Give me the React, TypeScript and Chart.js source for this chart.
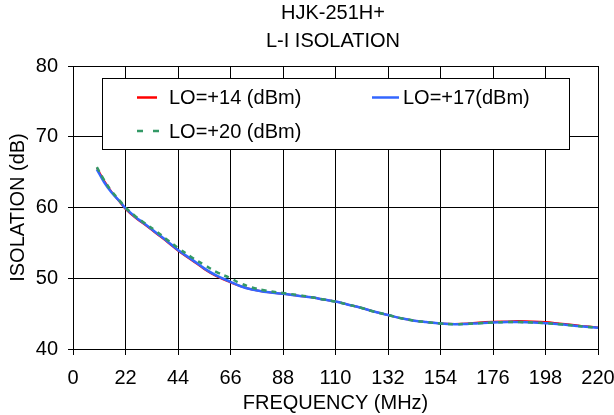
import React, { useEffect, useRef } from "react";
import { Chart, registerables } from "chart.js";

Chart.register(...registerables);

const titleLines = ["HJK-251H+", "L-I ISOLATION"];
const xTitle = "FREQUENCY (MHz)";
const yTitle = "ISOLATION (dB)";
const xTicks = [0, 22, 44, 66, 88, 110, 132, 154, 176, 198, 220];
const yTicks = [40, 50, 60, 70, 80];

const freqs = [10, 13, 16, 20, 22, 26, 30, 35, 40, 44, 50, 55, 60, 66, 70, 75, 80, 88, 95, 100, 105, 110, 115, 121, 126, 132, 138, 143, 148, 154, 160, 165, 170, 176, 182, 187, 193, 198, 204, 210, 215, 220];
const lo14 = [65.6, 63.8, 62.3, 60.6, 59.8, 58.6, 57.6, 56.3, 55.0, 53.9, 52.5, 51.3, 50.3, 49.4, 48.9, 48.4, 48.1, 47.8, 47.5, 47.3, 47.0, 46.7, 46.3, 45.8, 45.3, 44.8, 44.3, 44.0, 43.8, 43.6, 43.55, 43.6, 43.75, 43.85, 43.9, 43.95, 43.9, 43.8, 43.6, 43.4, 43.2, 43.05];
const lo17 = [65.4, 63.6, 62.2, 60.7, 59.9, 58.7, 57.7, 56.4, 55.1, 54.0, 52.6, 51.4, 50.4, 49.5, 48.9, 48.4, 48.1, 47.8, 47.5, 47.3, 47.0, 46.7, 46.3, 45.8, 45.3, 44.8, 44.3, 44.0, 43.8, 43.6, 43.5, 43.55, 43.65, 43.75, 43.8, 43.8, 43.75, 43.65, 43.5, 43.3, 43.15, 43.0];
const lo20 = [65.7, 63.9, 62.4, 60.8, 60.0, 58.8, 57.8, 56.6, 55.3, 54.3, 52.9, 51.9, 50.9, 50.0, 49.3, 48.7, 48.3, 47.9, 47.6, 47.3, 47.0, 46.7, 46.3, 45.8, 45.3, 44.8, 44.3, 44.0, 43.8, 43.6, 43.5, 43.55, 43.65, 43.75, 43.8, 43.8, 43.75, 43.65, 43.5, 43.3, 43.15, 43.0];

const seriesLabels = ["LO=+14 (dBm)", "LO=+17(dBm)", "LO=+20 (dBm)"];
const seriesColors = ["#ff0000", "#3366ff", "#339966"];

const FONT = "'Liberation Sans', Arial, sans-serif";
const FS = 20;

const pts = (ys: number[]) => freqs.map((x, i) => ({ x, y: ys[i] }));

const titlePlugin = {
  id: "customTitle",
  afterDraw(chart: any) {
    const ctx = chart.ctx;
    ctx.save();
    ctx.fillStyle = "#000";
    ctx.font = `${FS}px ${FONT}`;
    ctx.textAlign = "center";
    ctx.textBaseline = "middle";
    const cx = 333;
    ctx.fillText(titleLines[0], cx, 13);
    ctx.fillText(titleLines[1], cx, 41);
    ctx.restore();
  },
};

const legendPlugin = {
  id: "customLegend",
  afterDatasetsDraw(chart: any) {
    const ctx = chart.ctx;
    ctx.save();
    const bx = 102.5, by = 78.5, bw = 467, bh = 71;
    ctx.fillStyle = "#fff";
    ctx.fillRect(bx, by, bw, bh);
    ctx.strokeStyle = "#000";
    ctx.lineWidth = 1;
    ctx.strokeRect(bx, by, bw, bh);
    const items = [
      { x: 137, y: 97.5, len: 20, dash: [] as number[], tx: 169 },
      { x: 372, y: 97.5, len: 27, dash: [] as number[], tx: 403 },
      { x: 137, y: 131, len: 22, dash: [6, 10], tx: 169 },
    ];
    items.forEach((it, i) => {
      ctx.strokeStyle = seriesColors[i];
      ctx.lineWidth = 2.5;
      ctx.setLineDash(it.dash);
      ctx.beginPath();
      ctx.moveTo(it.x, it.y);
      ctx.lineTo(it.x + it.len, it.y);
      ctx.stroke();
      ctx.setLineDash([]);
      ctx.fillStyle = "#000";
      ctx.font = `${FS}px ${FONT}`;
      ctx.textAlign = "left";
      ctx.textBaseline = "middle";
      ctx.fillText(seriesLabels[i], it.tx, it.y + 1);
    });
    ctx.restore();
  },
};

export default function App() {
  const ref = useRef<HTMLCanvasElement>(null);
  useEffect(() => {
    if (!ref.current) return;
    const chart = new Chart(ref.current, {
      type: "line",
      data: {
        datasets: [
          { label: seriesLabels[0], data: pts(lo14), borderColor: seriesColors[0], borderWidth: 2, pointRadius: 0, tension: 0.4, order: 3 },
          { label: seriesLabels[1], data: pts(lo17), borderColor: seriesColors[1], borderWidth: 2.5, pointRadius: 0, tension: 0.4, order: 2 },
          { label: seriesLabels[2], data: pts(lo20), borderColor: seriesColors[2], borderWidth: 2.5, borderDash: [5, 5], pointRadius: 0, tension: 0.4, order: 1 },
        ],
      },
      options: {
        responsive: false,
        animation: false,
        layout: { padding: { top: 66, right: 16, left: 0, bottom: 0 } },
        plugins: { legend: { display: false }, title: { display: false }, tooltip: { enabled: false } },
        scales: {
          x: {
            type: "linear",
            min: 0,
            max: 220,
            afterBuildTicks: (s: any) => { s.ticks = xTicks.map((v) => ({ value: v })); },
            afterFit: (s: any) => { s.height = 66; s.paddingRight = 0; s.paddingLeft = 0; },
            grid: { color: "#000", lineWidth: 1, tickLength: 6, drawTicks: true },
            border: { color: "#000", width: 1 },
            ticks: { color: "#000", font: { family: FONT, size: FS }, padding: 11, maxRotation: 0, autoSkip: false },
            title: { display: true, text: xTitle, color: "#000", font: { family: FONT, size: FS }, padding: { top: 0, bottom: 0 } },
          },
          y: {
            type: "linear",
            min: 40,
            max: 80,
            afterBuildTicks: (s: any) => { s.ticks = yTicks.map((v) => ({ value: v })); },
            afterFit: (s: any) => { s.width = 73; s.paddingTop = 0; s.paddingBottom = 0; },
            grid: { color: "#000", lineWidth: 1, tickLength: 5 },
            border: { color: "#000", width: 1 },
            ticks: { color: "#000", font: { family: FONT, size: FS }, padding: 10 },
            title: { display: true, text: yTitle, color: "#000", font: { family: FONT, size: FS }, padding: { top: 6, bottom: 0 } },
          },
        },
      },
      plugins: [titlePlugin, legendPlugin],
    } as any);
    return () => chart.destroy();
  }, []);
  return (
    <div style={{ position: "fixed", left: 0, top: 0, width: 614, height: 415, background: "#fff" }}>
      <canvas ref={ref} width={614} height={415} style={{ display: "block" }} />
    </div>
  );
}
